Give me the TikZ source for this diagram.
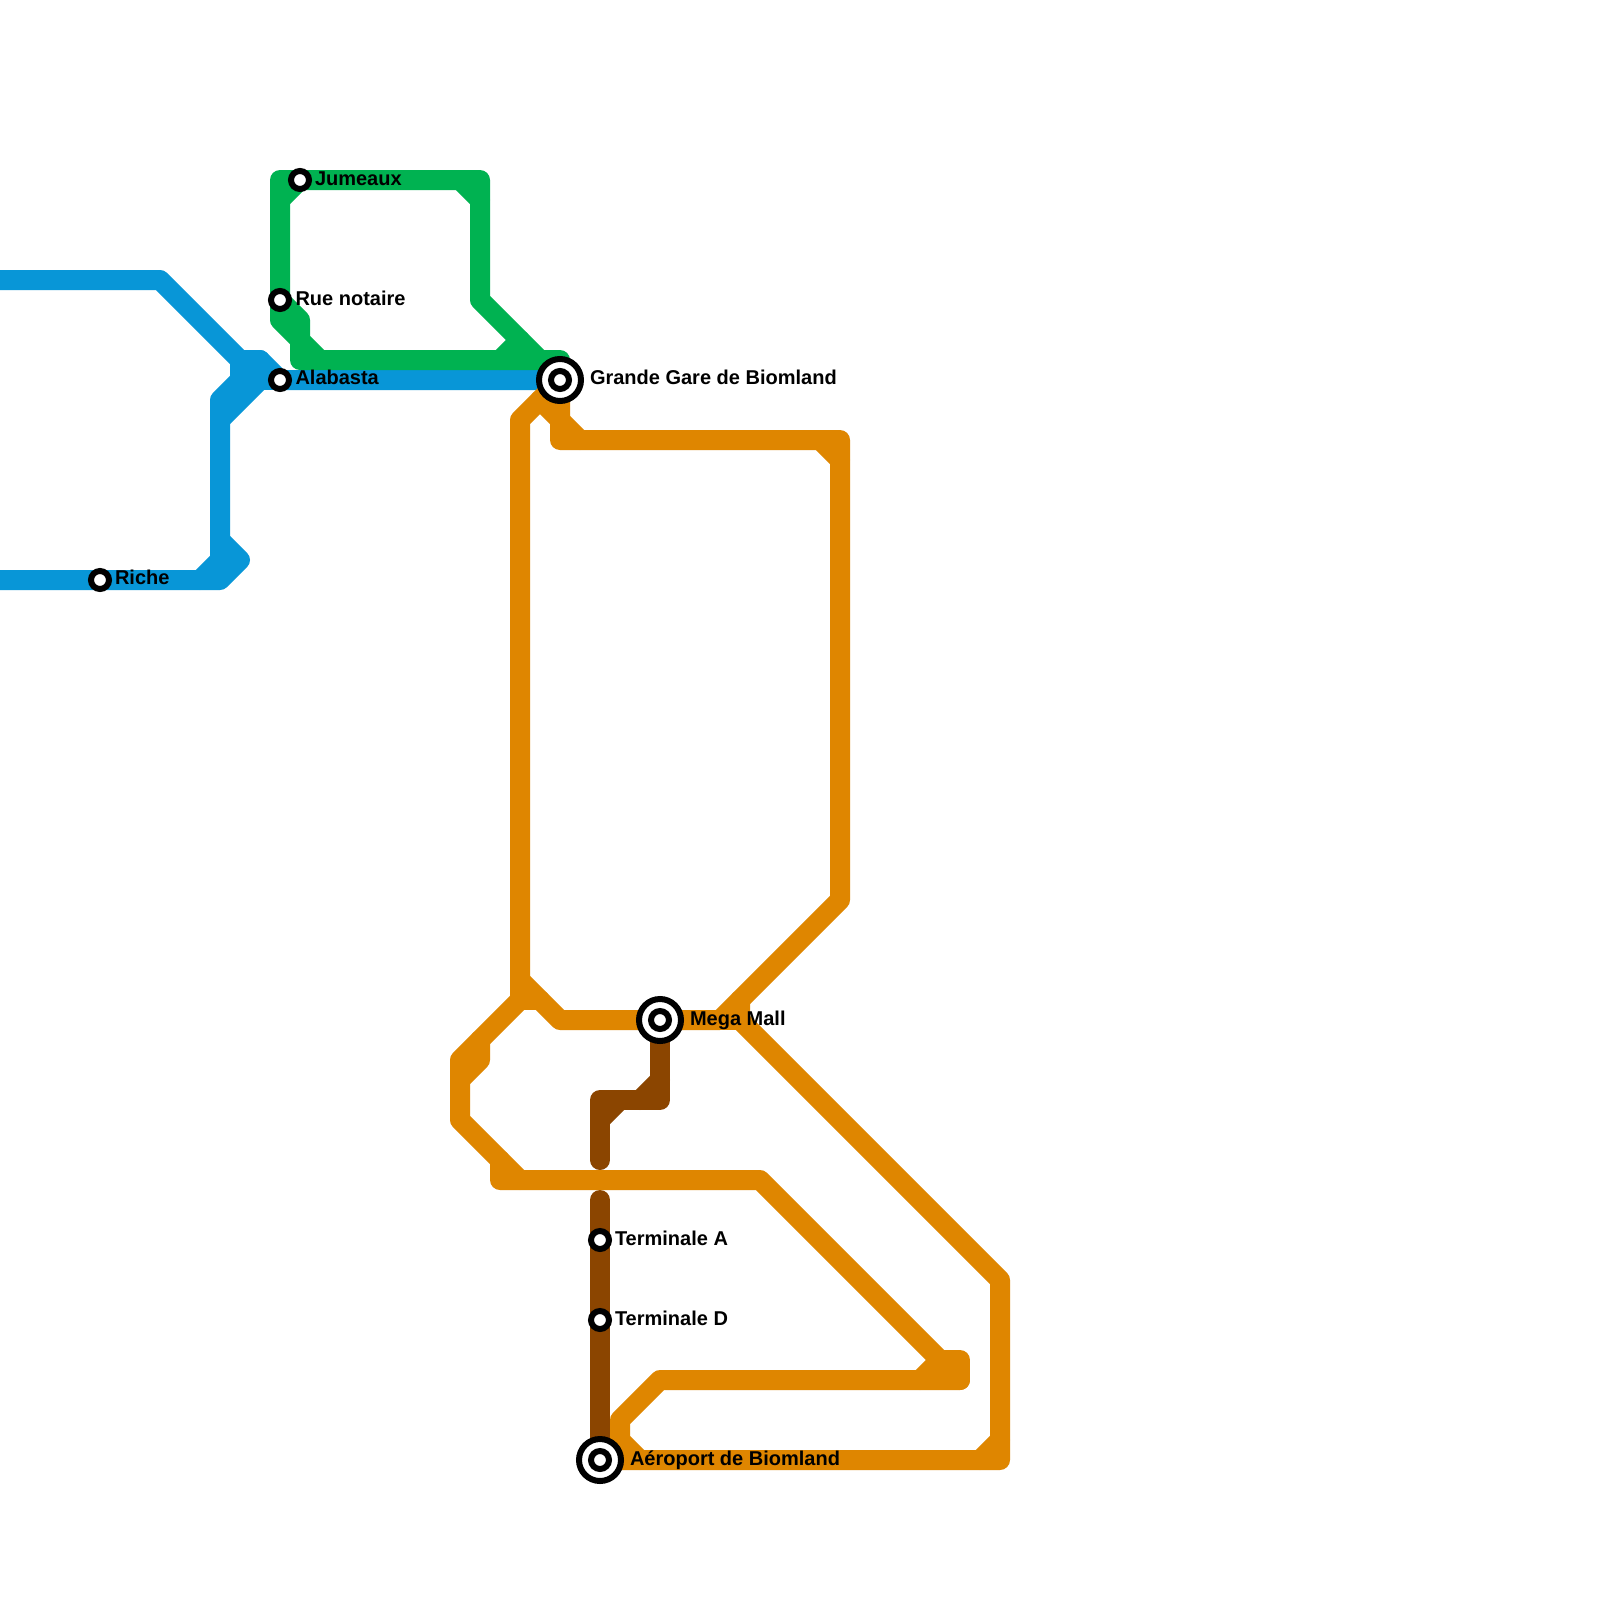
\documentclass[tikz,border=0pt]{standalone}
\usepackage{fontspec}
\setmainfont{Liberation Sans}
\definecolor{linegreen}{HTML}{00B251}
\definecolor{lineblue}{HTML}{0896D7}
\definecolor{lineorange}{HTML}{DF8600}
\definecolor{linebrown}{HTML}{8B4500}
\tikzset{
  route/.style={line width=20pt,line join=round,line cap=round},
  greenroute/.style={route,draw=linegreen},
  blueroute/.style={route,draw=lineblue},
  orangeroute/.style={route,draw=lineorange},
  brownroute/.style={route,draw=linebrown},
  stop/.style={circle,draw=black,fill=white,line width=6pt,minimum size=18pt,inner sep=0pt,outer sep=0pt},
  hubring/.style={circle,draw=black,fill=white,line width=6pt,minimum size=42pt,inner sep=0pt,outer sep=0pt},
  stoplabel/.style={anchor=base west,inner sep=0pt,outer sep=0pt,text=black,font=\bfseries\fontsize{20pt}{22pt}\selectfont},
}
\begin{document}
\begin{tikzpicture}[x=1pt,y=-1pt]
\clip (0,0) rectangle (1600,1600);
\fill[white] (0,0) rectangle (1600,1600);
\coordinate (jumeaux) at (300,180);
\coordinate (ruenotaire) at (280,300);
\coordinate (alabasta) at (280,380);
\coordinate (gare) at (560,380);
\coordinate (riche) at (100,580);
\coordinate (megamall) at (660,1020);
\coordinate (termA) at (600,1240);
\coordinate (termD) at (600,1320);
\coordinate (aeroport) at (600,1460);
\coordinate (westtop) at (-20,280);
\coordinate (westlow) at (-20,580);
% blue
\draw[blueroute] (westtop) -- (160,280) -- (240,360) -- (240,380) -- (220,400) -- (220,560) -- (200,580);
\draw[blueroute] (240,360) -- (260,360) -- (alabasta) -- (gare);
\draw[blueroute] (240,360) -- (240,380) -- (alabasta);
\draw[blueroute] (260,360) -- (260,380) -- (220,420);
\draw[blueroute] (220,540) -- (240,560) -- (220,580) -- (riche) -- (westlow);
% green
\draw[greenroute] (jumeaux) -- (280,180) -- (ruenotaire) -- (280,320) -- (300,340) -- (300,360) -- (560,360);
\draw[greenroute] (jumeaux) -- (280,200);
\draw[greenroute] (ruenotaire) -- (300,320) -- (300,340) -- (320,360);
\draw[greenroute] (jumeaux) -- (480,180) -- (480,300) -- (540,360);
\draw[greenroute] (460,180) -- (480,200);
\draw[greenroute] (500,360) -- (520,340);
% brown
\draw[brownroute] (megamall) -- (660,1100) -- (600,1100) -- (600,1160);
\draw[brownroute] (660,1080) -- (640,1100);
\draw[brownroute] (620,1100) -- (600,1120);
\draw[brownroute] (600,1200) -- (termA) -- (termD) -- (aeroport);
% orange
\draw[orangeroute] (gare) -- (520,420) -- (520,1000);
\draw[orangeroute] (520,980) -- (560,1020) -- (megamall) -- (720,1020) -- (840,900) -- (840,440) -- (560,440) -- (gare);
\draw[orangeroute] (540,400) -- (560,420) -- (580,440);
\draw[orangeroute] (820,440) -- (840,460);
\draw[orangeroute] (520,1000) -- (540,1000);
\draw[orangeroute] (520,1000) -- (460,1060) -- (460,1120) -- (520,1180);
\draw[orangeroute] (480,1040) -- (480,1060) -- (460,1080);
\draw[orangeroute] (500,1160) -- (500,1180) -- (760,1180) -- (960,1380) -- (660,1380) -- (620,1420) -- (620,1440) -- (640,1460);
\draw[orangeroute] (940,1360) -- (960,1360) -- (960,1380);
\draw[orangeroute] (920,1380) -- (940,1360);
\draw[orangeroute] (740,1000) -- (740,1020) -- (1000,1280) -- (1000,1460) -- (aeroport);
\draw[orangeroute] (720,1020) -- (740,1020);
\draw[orangeroute] (1000,1440) -- (980,1460);
% stations
\node[stop] (njumeaux) at (jumeaux) {};
\node[stop] (nruenotaire) at (ruenotaire) {};
\node[stop] (nalabasta) at (alabasta) {};
\node[stop] (nriche) at (riche) {};
\node[stop] (ntermA) at (termA) {};
\node[stop] (ntermD) at (termD) {};
\node[hubring] (ngareout) at (gare) {};
\node[stop] (ngare) at (gare) {};
\node[hubring] (nmegaout) at (megamall) {};
\node[stop] (nmega) at (megamall) {};
\node[hubring] (naeroout) at (aeroport) {};
\node[stop] (naero) at (aeroport) {};
% labels
\node[stoplabel] (ljumeaux) at (315,185) {Jumeaux};
\node[stoplabel] (lrue) at (295.5,305) {Rue notaire};
\node[stoplabel] (lala) at (295.5,384.5) {Alabasta};
\node[stoplabel] (lgare) at (590,384.5) {Grande Gare de Biomland};
\node[stoplabel] (lriche) at (115,584.5) {Riche};
\node[stoplabel] (lmega) at (690,1025) {Mega Mall};
\node[stoplabel] (ltA) at (615,1245) {Terminale A};
\node[stoplabel] (ltD) at (615,1325) {Terminale D};
\node[stoplabel] (laero) at (630,1465) {Aéroport de Biomland};
\end{tikzpicture}
\end{document}
